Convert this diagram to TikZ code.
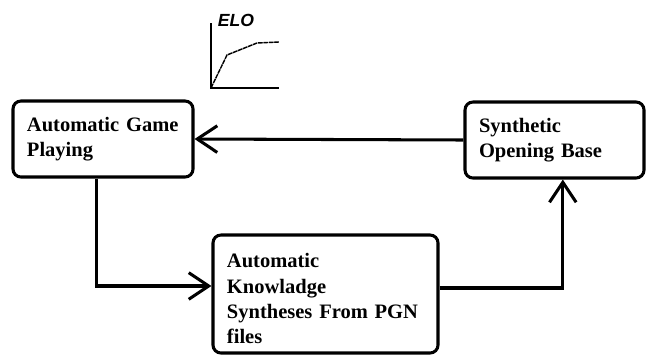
\documentclass[tikz,border=0pt]{standalone}
\usepackage{fontspec}
\setmainfont{Liberation Serif}
\newfontfamily\elofont{Liberation Sans}
\usetikzlibrary{arrows.meta, calc, positioning}
\tikzset{
  stage/.style={draw, rectangle, rounded corners=0.24cm, line width=2.6pt,
    align=left, inner xsep=0.42cm, minimum height=2.28cm,
    font=\bfseries\fontsize{17.5}{21.5}\selectfont},
  flow/.style={line width=2.6pt, -{Straight Barb[length=0.6cm,width=0.8cm]}},
  axis/.style={line width=2pt},
  curve/.style={line width=1.2pt, dash pattern=on 4pt off 0.6pt}
}

\begin{document}
\begin{tikzpicture}[x=0.03cm, y=-0.03cm]
  \useasboundingbox (0,0) rectangle (650,356);

  \node[stage, text width=4.56cm] (play) at (103,139) {Automatic Game\\Playing};
  \node[stage, text width=4.53cm] (base) at (554.5,140) {Synthetic\\Opening Base};
  \node[stage, text width=5.91cm, minimum height=3.54cm] (know) at (325.5,294)
    {\rule{0pt}{20pt}Automatic\\Knowladge\\Syntheses From PGN\\files};

  \draw[flow] (base.west) -- (play.east);
  \draw[flow] ([xshift=2.55cm]play.south west) |- ([yshift=0.24cm]know.west);
  \draw[flow] ([yshift=0.18cm]know.east) -| ([xshift=0.25cm]base.south);

  % little elo chart
  \coordinate (origin) at (211,88);
  \draw[axis] (211,23) |- (279,88);
  \draw[curve] (origin) -- (227,55) -- (257,43) -- (279,42);
  \node[font=\elofont\bfseries\itshape\fontsize{15}{17}\selectfont] (elo) at (236,20) {ELO};
\end{tikzpicture}
\end{document}
